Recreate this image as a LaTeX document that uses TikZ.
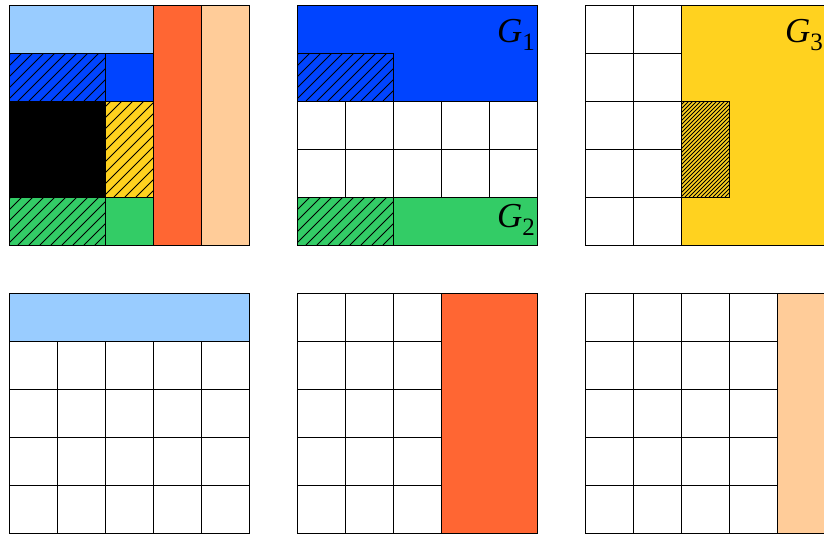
\documentclass[tikz,border=0pt]{standalone}
\usepackage{fontspec}
\newfontfamily\tms{Liberation Serif}
\definecolor{lblue}{HTML}{99CCFF}
\definecolor{dblue}{HTML}{0044FF}
\definecolor{orng}{HTML}{FF6633}
\definecolor{peach}{HTML}{FFCC99}
\definecolor{yell}{HTML}{FFD21F}
\definecolor{grn}{HTML}{33CC66}
\tikzset{
  edge/.style={draw=black,line width=1pt},
  hatchline/.style={draw=black,line width=0.8pt},
  glabel/.style={anchor=base east,inner sep=0pt}
}
\newcommand\glab[1]{{\tms\fontsize{35}{35}\selectfont\itshape G}\raisebox{-8pt}{\tms\fontsize{25}{25}\selectfont #1}}
% #1 x1, #2 y1, #3 x2, #4 y2, #5 spacing
\newcommand\myhatch[5]{%
  \begin{scope}
    \clip (#1,#2) rectangle (#3,#4);
    \foreach \i in {0,...,90} {
      \draw[hatchline] ({#1-200+\i*#5},#4) -- ++(300,-300);
    }
  \end{scope}
}
% grid of cells: #1 x0, #2 y0, #3 cols, #4 rows
\newcommand\mygrid[4]{%
  \foreach \c in {1,...,#3} {
    \foreach \r in {1,...,#4} {
      \draw[edge,fill=white] ({#1+(\c-1)*48},{#2+(\r-1)*48}) rectangle ++(48,48);
    }
  }
}
\begin{document}
\begin{tikzpicture}[x=1pt,y=-1pt]
\useasboundingbox (0,0) rectangle (824,536);
\clip (0,0) rectangle (824,536);
\fill[white] (0,0) rectangle (824,536);

% ---------- Panel 1 ----------
\fill[lblue] (9,5) rectangle (153,53);
\fill[dblue] (9,53) rectangle (153,101);
\fill[black] (9,101) rectangle (105,197);
\fill[yell] (105,101) rectangle (153,197);
\fill[grn] (9,197) rectangle (153,245);
\fill[orng] (153,5) rectangle (201,245);
\fill[peach] (201,5) rectangle (249,245);
\myhatch{9}{53}{105}{101}{11}
\myhatch{105}{101}{153}{197}{11}
\myhatch{9}{197}{105}{245}{11}
\draw[edge] (9,5) rectangle (153,53);
\draw[edge] (9,53) rectangle (105,101);
\draw[edge] (105,53) rectangle (153,101);
\draw[edge] (9,101) rectangle (105,197);
\draw[edge] (105,101) rectangle (153,197);
\draw[edge] (9,197) rectangle (105,245);
\draw[edge] (105,197) rectangle (153,245);
\draw[edge] (153,5) rectangle (201,245);
\draw[edge] (201,5) rectangle (249,245);

% ---------- Panel 2 ----------
\fill[dblue] (297,5) rectangle (537,101);
\myhatch{297}{53}{393}{101}{11}
\draw[edge] (297,5) rectangle (537,101);
\draw[edge] (297,53) rectangle (393,101);
\mygrid{297}{101}{5}{2}
\fill[grn] (297,197) rectangle (537,245);
\myhatch{297}{197}{393}{245}{11}
\draw[edge] (297,197) rectangle (537,245);
\draw[edge] (297,197) rectangle (393,245);
\node[glabel] (g1) at (535,42) {\glab{1}};
\node[glabel] (g2) at (535,227) {\glab{2}};

% ---------- Panel 3 ----------
\mygrid{585}{5}{2}{5}
\fill[yell] (681,5) rectangle (825,245);
\myhatch{681}{101}{729}{197}{4}
\draw[edge] (681,5) rectangle (825,245);
\draw[edge] (681,101) rectangle (729,197);
\node[glabel] (g3) at (823,42) {\glab{3}};

% ---------- Panel 4 ----------
\fill[lblue] (9,293) rectangle (249,341);
\draw[edge] (9,293) rectangle (249,341);
\mygrid{9}{341}{5}{4}

% ---------- Panel 5 ----------
\mygrid{297}{293}{3}{5}
\fill[orng] (441,293) rectangle (537,533);
\draw[edge] (441,293) rectangle (537,533);

% ---------- Panel 6 ----------
\mygrid{585}{293}{4}{5}
\fill[peach] (777,293) rectangle (825,533);
\draw[edge] (777,293) rectangle (825,533);
\end{tikzpicture}
\end{document}
